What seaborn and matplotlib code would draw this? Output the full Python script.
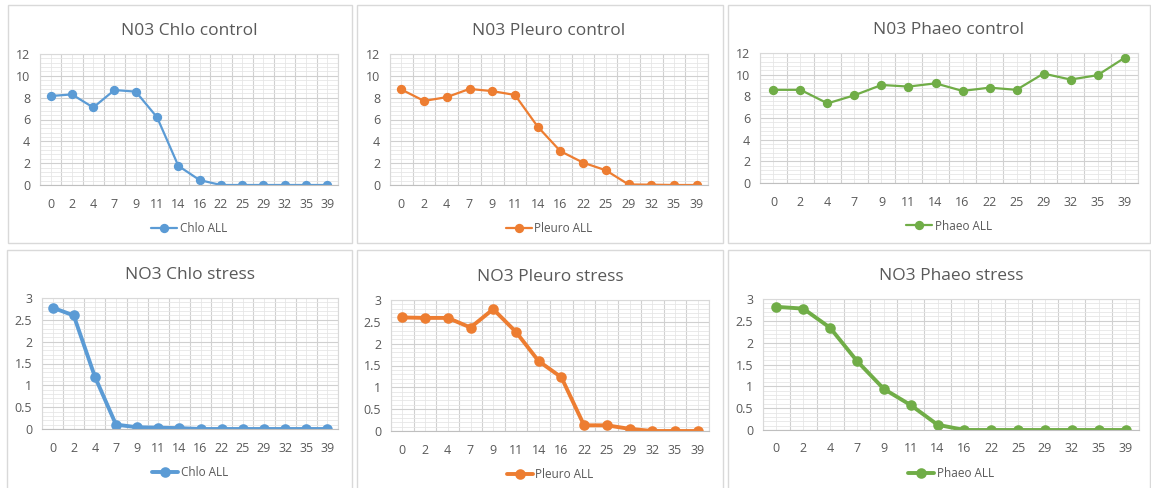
import numpy as np
import pandas as pd
import seaborn as sns
import matplotlib.pyplot as plt
from matplotlib.patches import Rectangle
from matplotlib.ticker import FixedLocator, MultipleLocator

# sampling days (categorical x axis)
days = ["0", "2", "4", "7", "9", "11", "14", "16", "22", "25", "29", "32", "35", "39"]

chlo_control = [8.15, 8.3, 7.1, 8.7, 8.55, 6.2, 1.75, 0.45, 0, 0, 0, 0, 0, 0]
pleuro_control = [8.75, 7.7, 8.05, 8.8, 8.6, 8.25, 5.35, 3.1, 2.05, 1.35, 0.05, 0.03, 0, 0]
phaeo_control = [8.6, 8.6, 7.35, 8.1, 9.05, 8.9, 9.2, 8.5, 8.8, 8.6, 10.1, 9.55, 9.95, 11.55]

chlo_stress = [2.78, 2.6, 1.2, 0.1, 0.04, 0.03, 0.02, 0, 0, 0, 0, 0, 0, 0]
pleuro_stress = [2.6, 2.59, 2.59, 2.37, 2.79, 2.27, 1.6, 1.23, 0.13, 0.13, 0.05, 0, 0, 0]
phaeo_stress = [2.82, 2.78, 2.34, 1.58, 0.94, 0.57, 0.12, 0, 0, 0, 0, 0, 0, 0]

blue = "#5B9BD5"
orange = "#ED7D31"
green = "#70AD47"
text_col = "#595959"

sns.set_theme(style="white")
plt.rcParams["font.family"] = ["Open Sans", "DejaVu Sans"]

W, H = 1151, 488
fig = plt.figure(figsize=(W / 100, H / 100), dpi=100)


def px_rect(x0, y0, x1, y1):
    return [x0 / W, 1 - y1 / H, (x1 - x0) / W, (y1 - y0) / H]


# panel frames
panel_boxes = [(8, 5, 352, 243), (357, 5, 723, 243), (728, 5, 1150, 243),
               (7, 250, 352, 492), (357, 250, 723, 492), (728, 250, 1150, 492)]
for x0, y0, x1, y1 in panel_boxes:
    fig.patches.append(Rectangle((x0 / W, 1 - y1 / H), (x1 - x0) / W, (y1 - y0) / H,
                                 transform=fig.transFigure, fill=False,
                                 edgecolor="#d9d9d9", linewidth=1.0))

panels = [
    ("N03 Chlo control", chlo_control, blue, "Chlo ALL", (40, 54, 338, 185), 12, 2, 1.6),
    ("N03 Pleuro control", pleuro_control, orange, "Pleuro ALL", (390, 54, 708, 185), 12, 2, 1.6),
    ("N03 Phaeo control", phaeo_control, green, "Phaeo ALL", (760, 53, 1138, 183), 12, 2, 1.6),
    ("NO3 Chlo stress", chlo_stress, blue, "Chlo ALL", (42, 298, 338, 429), 3, 0.5, 2.8),
    ("NO3 Pleuro stress", pleuro_stress, orange, "Pleuro ALL", (391, 300, 709, 431), 3, 0.5, 2.8),
    ("NO3 Phaeo stress", phaeo_stress, green, "Phaeo ALL", (763, 299, 1139, 430), 3, 0.5, 2.8),
]

for title, vals, color, label, box, ymax, step, lw in panels:
    ax = fig.add_axes(px_rect(*box))
    df = pd.DataFrame({"day": days, "value": vals})
    sns.pointplot(data=df, x="day", y="value", order=days, color=color,
                  markersize=5.5, linewidth=lw, errorbar=None, label=label, ax=ax)
    ax.set_ylim(0, ymax)
    ax.set_xlim(-0.5, len(days) - 0.5)
    ax.yaxis.set_major_locator(MultipleLocator(step))
    ax.yaxis.set_minor_locator(MultipleLocator(step / 5))
    ax.xaxis.set_minor_locator(FixedLocator(np.arange(len(days) + 1) - 0.5))
    ax.grid(which="major", axis="y", color="#d0d0d0", linewidth=0.8)
    ax.grid(which="minor", axis="y", color="#e6e6e6", linewidth=0.6)
    ax.grid(which="minor", axis="x", color="#d0d0d0", linewidth=0.8)
    ax.grid(which="major", axis="x", color="#e6e6e6", linewidth=0.6)
    ax.set_axisbelow(True)
    for side, sp in ax.spines.items():
        sp.set_color("#d9d9d9")
        sp.set_linewidth(0.8)
    ax.spines["bottom"].set_color("#bfbfbf")
    ax.tick_params(axis="both", which="both", length=0, labelsize=9,
                   labelcolor=text_col)
    ax.tick_params(axis="x", pad=9)
    ax.tick_params(axis="y", pad=7)
    ax.set_xlabel("")
    ax.set_ylabel("")
    if step < 1:
        ax.set_yticks(np.arange(0, ymax + 0.01, step))
        ax.set_yticklabels([f"{v:g}" for v in np.arange(0, ymax + 0.01, step)])
    ax.set_title(title, fontsize=12.5, color=text_col, pad=14)
    ax.legend(loc="upper center", bbox_to_anchor=(0.5, -0.2), frameon=False,
              fontsize=8.5, labelcolor=text_col, handlelength=2.2, handletextpad=0.2,
              markerscale=1.0)

fig.savefig("out.png", dpi=100)
